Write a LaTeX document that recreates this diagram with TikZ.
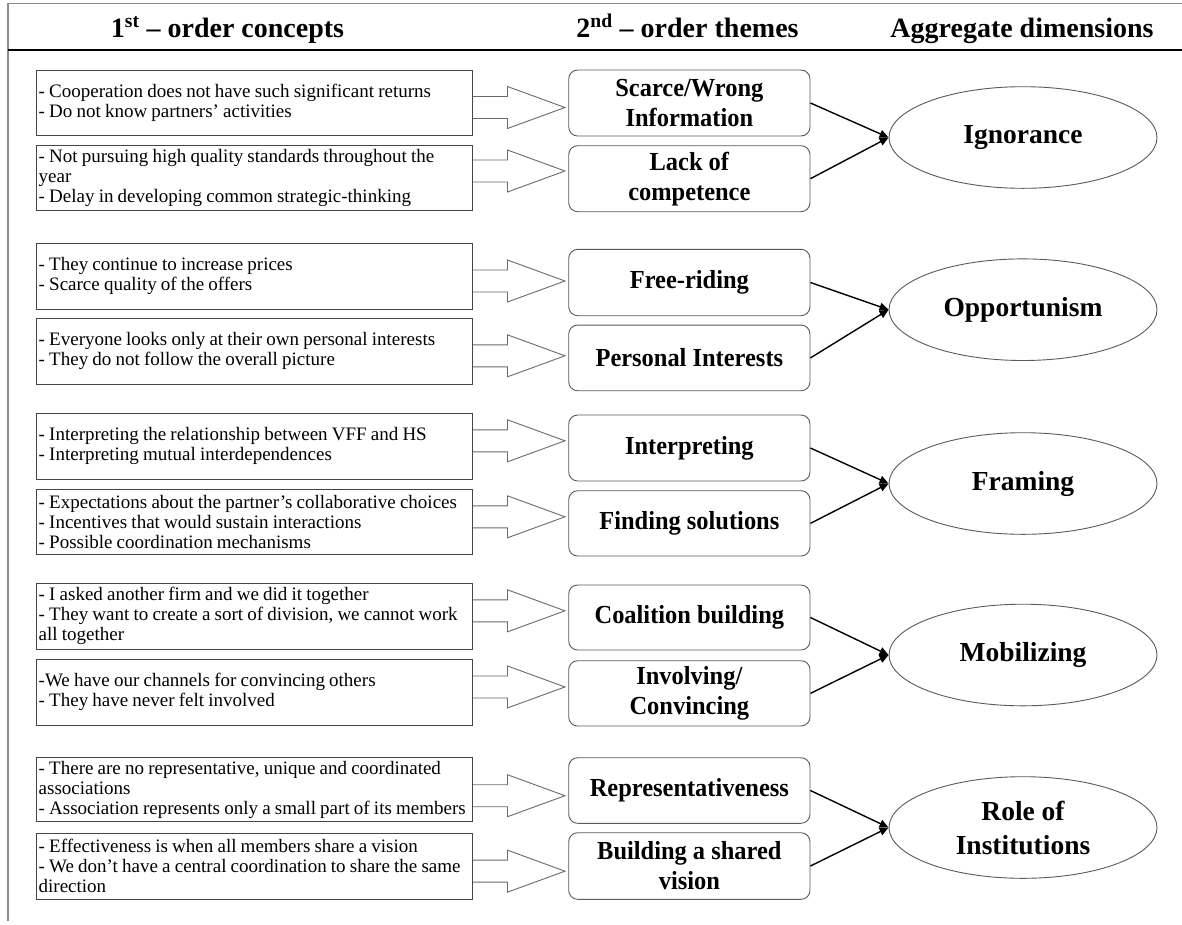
\documentclass[tikz,border=0pt]{standalone}
\usepackage{fontspec}
\setmainfont{Liberation Serif}
\newfontfamily\conceptfont{Liberation Serif}
\newfontfamily\themefont[FakeStretch=0.94]{Liberation Serif}
\usetikzlibrary{shapes.geometric,arrows.meta}

\definecolor{framegray}{HTML}{8C8C8C}
\definecolor{boxgray}{HTML}{454545}
\definecolor{themegray}{HTML}{5A5A5A}
\definecolor{arrowgray}{HTML}{6A6A6A}

\tikzset{
  header/.style={anchor=base, inner sep=0, font=\bfseries\fontsize{28}{32}\selectfont},
  concept/.style={draw=boxgray, line width=0.9pt, rectangle, text width=431.9pt, inner xsep=2pt,
    inner ysep=0pt, align=left, font=\conceptfont\fontsize{19}{20}\selectfont,
    execute at begin node={\spaceskip=0.22em plus 0.05em minus 0.02em\relax}},
  theme/.style={draw=themegray, line width=0.9pt, rectangle, rounded corners=9pt, minimum width=241.3pt,
    inner sep=0pt, align=center, font=\themefont\bfseries\fontsize{26}{30}\selectfont},
  dimension/.style={draw=themegray, line width=0.9pt, ellipse, minimum width=268pt, minimum height=101.6pt,
    inner sep=0pt, align=center, font=\bfseries\fontsize{27.5}{34}\selectfont},
  blockarrow/.style={draw=arrowgray, line width=0.9pt, line join=miter},
  link/.style={draw=black, line width=1.4pt, -{Triangle[length=9pt,width=8pt]}},
}

% hollow block arrow leaving the east side of a concept box, shifted vertically by #2
\newcommand{\blockarr}[2]{%
  \draw[blockarrow] ([yshift=#2]#1.east) ++(0,11) -- ++(34.4,0) -- ++(0,10) -- ++(57.5,-21)
    -- ++(-57.5,-21) -- ++(0,10) -- ++(-34.4,0);}

\begin{document}
\hyphenpenalty=10000
\exhyphenpenalty=10000
\begin{tikzpicture}[x=1pt,y=1pt]
\useasboundingbox (0,0) rectangle (1182,-924);
\fill[white] (0,0) rectangle (1182,-924);

% frame and header rule
\draw[framegray, line width=1.6pt] (7.7,-921) -- (7.7,-3.3) -- (1182,-3.3);
\draw[black, line width=1.5pt] (7.7,-50) -- (1182,-50);

% column headings
\node[header] (h1) at (227.5,-37) {1\textsuperscript{st} – order concepts};
\node[header] (h2) at (687.5,-37) {2\textsuperscript{nd} – order themes};
\node[header] (h3) at (1022,-37) {Aggregate dimensions};

% ---------- Ignorance ----------
\node[concept, minimum height=65pt] (c1) at (254.65,-102.5)
  {- Cooperation does not have such significant returns\\- Do not know partners’ activities};
\node[concept, minimum height=65pt] (c2) at (254.65,-177.5)
  {- Not pursuing high quality standards throughout the\\year\\- Delay in developing common strategic-thinking};
\node[theme, minimum height=66pt] (t1) at (689.35,-103) {Scarce/Wrong\\Information};
\node[theme, minimum height=66pt] (t2) at (689.35,-178.7) {Lack of\\competence};
\node[dimension] (d1) at (1023,-137.5) {Ignorance};
\blockarr{c1}{-5}
\blockarr{c2}{6.5}
\draw[link] (t1.east) -- (d1.west);
\draw[link] (t2.east) -- (d1.west);

% ---------- Opportunism ----------
\node[concept, minimum height=66pt] (c3) at (254.65,-276.3)
  {- They continue to increase prices\\- Scarce quality of the offers};
\node[concept, minimum height=66pt] (c4) at (254.65,-351.2)
  {- Everyone looks only at their own personal interests\\- They do not follow the overall picture};
\node[theme, minimum height=66.4pt] (t3) at (689.35,-282.5) {Free-riding};
\node[theme, minimum height=65.7pt] (t4) at (689.35,-357.9) {Personal Interests};
\node[dimension] (d2) at (1023,-309.7) {Opportunism};
\blockarr{c3}{-4.7}
\blockarr{c4}{-4.6}
\draw[link] (t3.east) -- (d2.west);
\draw[link] (t4.east) -- (d2.west);

% ---------- Framing ----------
\node[concept, minimum height=66pt] (c5) at (254.65,-446.3)
  {- Interpreting the relationship between VFF and HS\\- Interpreting mutual interdependences};
\node[concept, minimum height=65pt] (c6) at (254.65,-521.8)
  {- Expectations about the partner’s collaborative choices\\- Incentives that would sustain interactions\\- Possible coordination mechanisms};
\node[theme, minimum height=66pt] (t5) at (689.35,-448) {Interpreting};
\node[theme, minimum height=65.3pt] (t6) at (689.35,-523.35) {Finding solutions};
\node[dimension] (d3) at (1023,-483.5) {Framing};
\blockarr{c5}{5.5}
\blockarr{c6}{5}
\draw[link] (t5.east) -- (d3.west);
\draw[link] (t6.east) -- (d3.west);

% ---------- Mobilizing ----------
\node[concept, minimum height=66pt] (c7) at (254.65,-616.3)
  {- I asked another firm and we did it together\\- They want to create a sort of division, we cannot work\\all together};
\node[concept, minimum height=65.7pt] (c8) at (254.65,-692.15)
  {-We have our channels for convincing others\\- They have never felt involved};
\node[theme, minimum height=65pt] (t7) at (689.35,-617.5) {Coalition building};
\node[theme, minimum height=65.3pt] (t8) at (689.35,-693.35) {Involving/\\Convincing};
\node[dimension] (d4) at (1023,-655) {Mobilizing};
\blockarr{c7}{5.5}
\blockarr{c8}{5.2}
\draw[link] (t7.east) -- (d4.west);
\draw[link] (t8.east) -- (d4.west);

% ---------- Role of Institutions ----------
\node[concept, minimum height=64.4pt] (c9) at (254.65,-789.5)
  {- There are no representative, unique and coordinated\\associations\\- Association represents only a small part of its members};
\node[concept, minimum height=65.7pt] (c10) at (254.65,-866.15)
  {- Effectiveness is when all members share a vision\\- We don’t have a central coordination to share the same\\direction};
\node[theme, minimum height=65.6pt] (t9) at (689.35,-790.5) {Representativeness};
\node[theme, minimum height=66.6pt] (t10) at (689.35,-866) {Building a shared\\vision};
\node[dimension] (d5) at (1023,-827.5) {Role of\\Institutions};
\blockarr{c9}{-6.2}
\blockarr{c10}{-5}
\draw[link] (t9.east) -- (d5.west);
\draw[link] (t10.east) -- (d5.west);
\end{tikzpicture}
\end{document}
